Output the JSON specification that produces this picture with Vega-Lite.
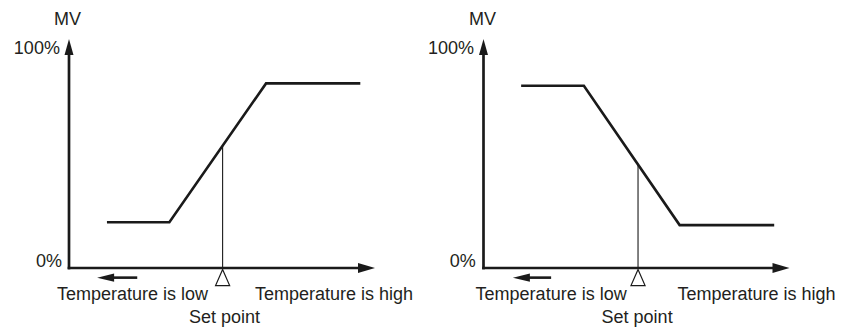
{
  "$schema": "https://vega.github.io/schema/vega-lite/v6.json",
  "autosize": {"type": "pad"},
  "padding": {"left": 13, "top": 11, "right": 0, "bottom": 0},
  "background": "white",
  "bounds": "flush",
  "spacing": 108.5,
  "config": {"view": {"stroke": null}, "text": {"font": "Liberation Sans", "fontSize": 18, "color": "#231f20"}},
  "datasets": {
    "segs": [
      {"panel": "A", "kind": "axis", "x": 0, "y": 0, "x2": 0, "y2": 98},
      {"panel": "A", "kind": "axis", "x": 0, "y": 0, "x2": 96, "y2": 0},
      {"panel": "A", "kind": "set", "x": 50.2, "y": 0, "x2": 50.2, "y2": 55.9},
      {"panel": "A", "kind": "shaft", "x": 13.5, "y": -4.4, "x2": 22.3, "y2": -4.4},
      {"panel": "B", "kind": "axis", "x": 0, "y": 0, "x2": 0, "y2": 98},
      {"panel": "B", "kind": "axis", "x": 0, "y": 0, "x2": 96, "y2": 0},
      {"panel": "B", "kind": "set", "x": 50.5, "y": 0, "x2": 50.5, "y2": 47.3},
      {"panel": "B", "kind": "shaft", "x": 13.8, "y": -4.4, "x2": 22.1, "y2": -4.4}
    ],
    "curve": [
      {"panel": "A", "o": 1, "temp": 12.4, "mv": 20.9},
      {"panel": "A", "o": 2, "temp": 32.8, "mv": 20.9},
      {"panel": "A", "o": 3, "temp": 64.4, "mv": 84.3},
      {"panel": "A", "o": 4, "temp": 95.2, "mv": 84.3},
      {"panel": "B", "o": 1, "temp": 12.3, "mv": 83.2},
      {"panel": "B", "o": 2, "temp": 32.8, "mv": 83.2},
      {"panel": "B", "o": 3, "temp": 64.1, "mv": 19.6},
      {"panel": "B", "o": 4, "temp": 95.0, "mv": 19.6}
    ],
    "heads": [
      {"panel": "A", "kind": "up", "x": 0, "y": 104.6},
      {"panel": "A", "kind": "right", "x": 100, "y": 0},
      {"panel": "A", "kind": "left", "x": 9.2, "y": -4.4},
      {"panel": "A", "kind": "marker", "x": 50.2, "y": -0.7},
      {"panel": "B", "kind": "up", "x": 0, "y": 104.6},
      {"panel": "B", "kind": "right", "x": 100, "y": 0},
      {"panel": "B", "kind": "left", "x": 9.6, "y": -4.4},
      {"panel": "B", "kind": "marker", "x": 50.5, "y": -0.7}
    ],
    "labels": [
      {"panel": "A", "label": "MV", "x": -0.5, "y": 113.2},
      {"panel": "A", "label": "100%", "x": -10.5, "y": 100},
      {"panel": "A", "label": "0%", "x": -6.5, "y": 2.7},
      {"panel": "A", "label": "Temperature is low", "x": 20.75, "y": -12.3},
      {"panel": "A", "label": "Temperature is high", "x": 86.6, "y": -12.3},
      {"panel": "A", "label": "Set point", "x": 50.8, "y": -22.8},
      {"panel": "B", "label": "MV", "x": -0.3, "y": 113.2},
      {"panel": "B", "label": "100%", "x": -10.6, "y": 100},
      {"panel": "B", "label": "0%", "x": -6.8, "y": 2.7},
      {"panel": "B", "label": "Temperature is low", "x": 22.1, "y": -12.3},
      {"panel": "B", "label": "Temperature is high", "x": 89.2, "y": -12.3},
      {"panel": "B", "label": "Set point", "x": 50.2, "y": -22.8}
    ]
  },
  "hconcat": [
    {
      "width": 306,
      "height": 219,
      "layer": [
        {"data": {"name": "segs"}, "transform": [{"filter": "datum.panel == 'A' && datum.kind == 'axis'"}],
         "mark": {"type": "rule", "strokeWidth": 2.7, "strokeCap": "square", "color": "#1a1a1a"},
         "encoding": {"x": {"field": "x", "type": "quantitative", "scale": {"domain": [0, 100], "nice": false, "zero": false}, "axis": null}, "x2": {"field": "x2"},
                      "y": {"field": "y", "type": "quantitative", "scale": {"domain": [0, 100], "nice": false, "zero": false}, "axis": null}, "y2": {"field": "y2"}}},
        {"data": {"name": "segs"}, "transform": [{"filter": "datum.panel == 'A' && datum.kind == 'set'"}],
         "mark": {"type": "rule", "strokeWidth": 1.1, "color": "#1a1a1a"},
         "encoding": {"x": {"field": "x", "type": "quantitative", "axis": null}, "x2": {"field": "x2"},
                      "y": {"field": "y", "type": "quantitative", "axis": null}, "y2": {"field": "y2"}}},
        {"data": {"name": "segs"}, "transform": [{"filter": "datum.panel == 'A' && datum.kind == 'shaft'"}],
         "mark": {"type": "rule", "strokeWidth": 2.6, "color": "#1a1a1a"},
         "encoding": {"x": {"field": "x", "type": "quantitative", "axis": null}, "x2": {"field": "x2"},
                      "y": {"field": "y", "type": "quantitative", "axis": null}, "y2": {"field": "y2"}}},
        {"data": {"name": "curve"}, "transform": [{"filter": "datum.panel == 'A'"}],
         "mark": {"type": "line", "strokeWidth": 2.6, "color": "#1a1a1a", "strokeJoin": "miter"},
         "encoding": {"x": {"field": "temp", "type": "quantitative", "axis": null}, "y": {"field": "mv", "type": "quantitative", "axis": null}, "order": {"field": "o"}}},
        {"data": {"name": "heads"}, "transform": [{"filter": "datum.panel == 'A' && datum.kind == 'up'"}],
         "mark": {"type": "point", "shape": "M0,0L-0.28,1L0.28,1Z", "size": 1024, "filled": true, "fill": "#1a1a1a", "opacity": 1, "strokeWidth": 0},
         "encoding": {"x": {"field": "x", "type": "quantitative", "axis": null}, "y": {"field": "y", "type": "quantitative", "axis": null}}},
        {"data": {"name": "heads"}, "transform": [{"filter": "datum.panel == 'A' && datum.kind == 'right'"}],
         "mark": {"type": "point", "shape": "M0,0L-1,-0.3L-1,0.3Z", "size": 1156, "filled": true, "fill": "#1a1a1a", "opacity": 1, "strokeWidth": 0},
         "encoding": {"x": {"field": "x", "type": "quantitative", "axis": null}, "y": {"field": "y", "type": "quantitative", "axis": null}}},
        {"data": {"name": "heads"}, "transform": [{"filter": "datum.panel == 'A' && datum.kind == 'left'"}],
         "mark": {"type": "point", "shape": "M0,0L1,-0.24L1,0.24Z", "size": 1156, "filled": true, "fill": "#1a1a1a", "opacity": 1, "strokeWidth": 0},
         "encoding": {"x": {"field": "x", "type": "quantitative", "axis": null}, "y": {"field": "y", "type": "quantitative", "axis": null}}},
        {"data": {"name": "heads"}, "transform": [{"filter": "datum.panel == 'A' && datum.kind == 'marker'"}],
         "mark": {"type": "point", "shape": "M0,0L-0.44,1L0.44,1Z", "size": 1024, "filled": false, "fill": "white", "fillOpacity": 1, "stroke": "#1a1a1a", "strokeWidth": 1.2, "opacity": 1},
         "encoding": {"x": {"field": "x", "type": "quantitative", "axis": null}, "y": {"field": "y", "type": "quantitative", "axis": null}}},
        {"data": {"name": "labels"}, "transform": [{"filter": "datum.panel == 'A'"}],
         "mark": {"type": "text", "align": "center", "baseline": "middle"},
         "encoding": {"x": {"field": "x", "type": "quantitative", "axis": null}, "y": {"field": "y", "type": "quantitative", "axis": null}, "text": {"field": "label"}}}
      ]
    },
    {
      "width": 306,
      "height": 219,
      "layer": [
        {"data": {"name": "segs"}, "transform": [{"filter": "datum.panel == 'B' && datum.kind == 'axis'"}],
         "mark": {"type": "rule", "strokeWidth": 2.7, "strokeCap": "square", "color": "#1a1a1a"},
         "encoding": {"x": {"field": "x", "type": "quantitative", "scale": {"domain": [0, 100], "nice": false, "zero": false}, "axis": null}, "x2": {"field": "x2"},
                      "y": {"field": "y", "type": "quantitative", "scale": {"domain": [0, 100], "nice": false, "zero": false}, "axis": null}, "y2": {"field": "y2"}}},
        {"data": {"name": "segs"}, "transform": [{"filter": "datum.panel == 'B' && datum.kind == 'set'"}],
         "mark": {"type": "rule", "strokeWidth": 1.1, "color": "#1a1a1a"},
         "encoding": {"x": {"field": "x", "type": "quantitative", "axis": null}, "x2": {"field": "x2"},
                      "y": {"field": "y", "type": "quantitative", "axis": null}, "y2": {"field": "y2"}}},
        {"data": {"name": "segs"}, "transform": [{"filter": "datum.panel == 'B' && datum.kind == 'shaft'"}],
         "mark": {"type": "rule", "strokeWidth": 2.6, "color": "#1a1a1a"},
         "encoding": {"x": {"field": "x", "type": "quantitative", "axis": null}, "x2": {"field": "x2"},
                      "y": {"field": "y", "type": "quantitative", "axis": null}, "y2": {"field": "y2"}}},
        {"data": {"name": "curve"}, "transform": [{"filter": "datum.panel == 'B'"}],
         "mark": {"type": "line", "strokeWidth": 2.6, "color": "#1a1a1a", "strokeJoin": "miter"},
         "encoding": {"x": {"field": "temp", "type": "quantitative", "axis": null}, "y": {"field": "mv", "type": "quantitative", "axis": null}, "order": {"field": "o"}}},
        {"data": {"name": "heads"}, "transform": [{"filter": "datum.panel == 'B' && datum.kind == 'up'"}],
         "mark": {"type": "point", "shape": "M0,0L-0.28,1L0.28,1Z", "size": 1024, "filled": true, "fill": "#1a1a1a", "opacity": 1, "strokeWidth": 0},
         "encoding": {"x": {"field": "x", "type": "quantitative", "axis": null}, "y": {"field": "y", "type": "quantitative", "axis": null}}},
        {"data": {"name": "heads"}, "transform": [{"filter": "datum.panel == 'B' && datum.kind == 'right'"}],
         "mark": {"type": "point", "shape": "M0,0L-1,-0.3L-1,0.3Z", "size": 1156, "filled": true, "fill": "#1a1a1a", "opacity": 1, "strokeWidth": 0},
         "encoding": {"x": {"field": "x", "type": "quantitative", "axis": null}, "y": {"field": "y", "type": "quantitative", "axis": null}}},
        {"data": {"name": "heads"}, "transform": [{"filter": "datum.panel == 'B' && datum.kind == 'left'"}],
         "mark": {"type": "point", "shape": "M0,0L1,-0.24L1,0.24Z", "size": 1156, "filled": true, "fill": "#1a1a1a", "opacity": 1, "strokeWidth": 0},
         "encoding": {"x": {"field": "x", "type": "quantitative", "axis": null}, "y": {"field": "y", "type": "quantitative", "axis": null}}},
        {"data": {"name": "heads"}, "transform": [{"filter": "datum.panel == 'B' && datum.kind == 'marker'"}],
         "mark": {"type": "point", "shape": "M0,0L-0.44,1L0.44,1Z", "size": 1024, "filled": false, "fill": "white", "fillOpacity": 1, "stroke": "#1a1a1a", "strokeWidth": 1.2, "opacity": 1},
         "encoding": {"x": {"field": "x", "type": "quantitative", "axis": null}, "y": {"field": "y", "type": "quantitative", "axis": null}}},
        {"data": {"name": "labels"}, "transform": [{"filter": "datum.panel == 'B'"}],
         "mark": {"type": "text", "align": "center", "baseline": "middle"},
         "encoding": {"x": {"field": "x", "type": "quantitative", "axis": null}, "y": {"field": "y", "type": "quantitative", "axis": null}, "text": {"field": "label"}}}
      ]
    }
  ]
}
